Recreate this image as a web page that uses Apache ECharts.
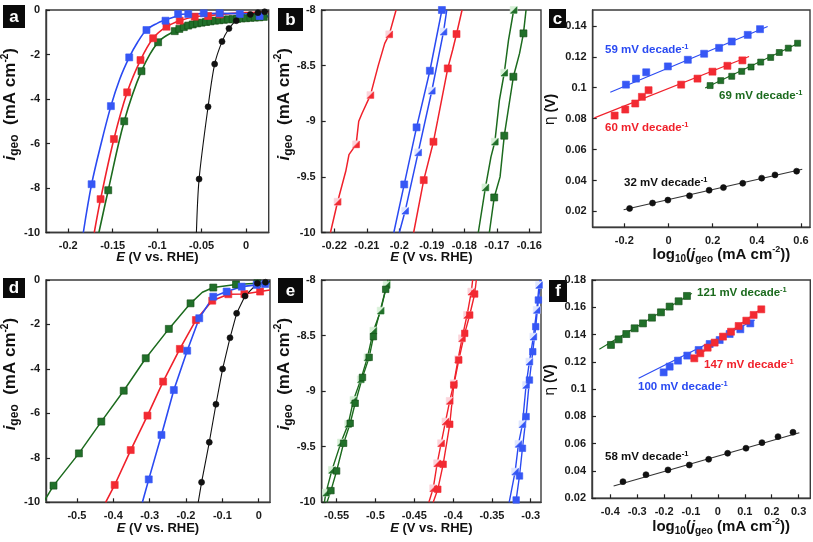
<!DOCTYPE html>
<html><head><meta charset="utf-8">
<script src="https://cdn.jsdelivr.net/npm/echarts@6/dist/echarts.min.js"></script>
<style>html,body{margin:0;padding:0;background:#fff}#c{width:813px;height:542px}</style>
</head><body><div id="c"></div>
<script>
// ---------------- DATA ----------------
// Panel a : j vs E (fresh)
const aXTicks = [-0.2, -0.15, -0.1, -0.05, 0];
const aYTicks = [-10, -8, -6, -4, -2, 0];
const aBlueLine = [[-0.183,-10],[-0.1737,-7.83],[-0.163,-6.0],[-0.152,-4.32],[-0.142,-3.1],[-0.1314,-2.13],[-0.122,-1.45],[-0.112,-0.9],[-0.1,-0.6],[-0.0906,-0.45],[-0.08,-0.3],[-0.0764,-0.22],[-0.065,-0.18],[-0.03,-0.15],[0.0,-0.17],[0.025,-0.27]];
const aBlueMarks = [[-0.1737,-7.83],[-0.152,-4.32],[-0.1314,-2.13],[-0.112,-0.9],[-0.0906,-0.48],[-0.0764,-0.18],[-0.065,-0.18],[-0.0476,-0.15],[-0.0296,-0.15],[-0.007,-0.18],[0.0153,-0.27]];
const aRedLine = [[-0.1707,-10],[-0.1636,-8.5],[-0.1486,-5.8],[-0.1337,-3.7],[-0.1187,-2.25],[-0.1045,-1.27],[-0.0895,-0.75],[-0.0746,-0.48],[-0.0577,-0.3],[-0.0427,-0.26],[-0.0296,-0.2],[0.0,-0.12],[0.025,-0.08]];
const aRedMarks = [[-0.1636,-8.5],[-0.1486,-5.8],[-0.1337,-3.7],[-0.1187,-2.25],[-0.1045,-1.27],[-0.0895,-0.75],[-0.0746,-0.48],[-0.0577,-0.3],[-0.0427,-0.27],[-0.0296,-0.2]];
const aGreenLine = [[-0.1655,-10],[-0.155,-8.1],[-0.137,-5.0],[-0.1176,-2.75],[-0.0989,-1.45],[-0.0802,-0.95],[-0.065,-0.7],[-0.05,-0.57],[-0.03,-0.46],[0.0,-0.37],[0.025,-0.3]];
const aGreenMarks = [[-0.155,-8.1],[-0.137,-5.0],[-0.1176,-2.75],[-0.0989,-1.45],[-0.0802,-0.95],[-0.075,-0.85],[-0.07,-0.77],[-0.065,-0.7],[-0.06,-0.65],[-0.055,-0.6],[-0.05,-0.57],[-0.045,-0.54],[-0.04,-0.51],[-0.035,-0.48],[-0.03,-0.46],[-0.025,-0.44],[-0.02,-0.42],[-0.015,-0.41],[-0.01,-0.4],[-0.005,-0.38],[0.0,-0.37],[0.005,-0.35],[0.01,-0.34],[0.015,-0.33],[0.02,-0.31]];
const aBlackLine = [[-0.0558,-10],[-0.0528,-7.6],[-0.0427,-4.35],[-0.0353,-2.43],[-0.027,-1.42],[-0.0192,-0.83],[-0.011,-0.48],[0.0048,-0.2],[0.0134,-0.12],[0.0209,-0.08],[0.025,-0.06]];
const aBlackMarks = [[-0.0528,-7.6],[-0.0427,-4.35],[-0.0353,-2.43],[-0.027,-1.42],[-0.0192,-0.83],[-0.011,-0.48],[0.0048,-0.2],[0.0134,-0.12],[0.0209,-0.08]];

// Panel b : zoom of a (before/after)
const bXTicks = [-0.22, -0.21, -0.2, -0.19, -0.18, -0.17, -0.16];
const bYTicks = [-10, -9.5, -9, -8.5, -8];
const bRedHalfLine = [[-0.2212,-10],[-0.219,-9.724],[-0.2165,-9.45],[-0.2155,-9.3],[-0.2133,-9.208],[-0.2125,-9.0],[-0.2115,-8.93],[-0.2089,-8.765],[-0.2065,-8.5],[-0.2045,-8.3],[-0.2031,-8.219],[-0.201,-8.0]];
const bRedHalfMarks = [[-0.219,-9.724],[-0.2133,-9.208],[-0.2089,-8.765],[-0.2031,-8.219]];
const bBlueLine = [[-0.2017,-10],[-0.1985,-9.568],[-0.1947,-9.055],[-0.1906,-8.546],[-0.1869,-8.0]];
const bBlueMarks = [[-0.1985,-9.568],[-0.1947,-9.055],[-0.1906,-8.546],[-0.1869,-8.0]];
const bBlueHalfLine = [[-0.2,-10],[-0.1982,-9.805],[-0.1942,-9.28],[-0.19,-8.726],[-0.1864,-8.195],[-0.1854,-8.0]];
const bBlueHalfMarks = [[-0.1982,-9.805],[-0.1942,-9.28],[-0.19,-8.726],[-0.1864,-8.195]];
const bRedLine = [[-0.1956,-10],[-0.1925,-9.529],[-0.1895,-9.184],[-0.1882,-8.99],[-0.1851,-8.525],[-0.1836,-8.36],[-0.1824,-8.216],[-0.1807,-8.0]];
const bRedMarks = [[-0.1925,-9.529],[-0.1895,-9.184],[-0.1851,-8.525],[-0.1824,-8.216]];
const bGreenHalfLine = [[-0.1757,-10],[-0.1735,-9.595],[-0.1718,-9.32],[-0.1706,-9.184],[-0.1692,-8.81],[-0.1677,-8.564],[-0.1664,-8.27],[-0.1648,-8.0]];
const bGreenHalfMarks = [[-0.1735,-9.595],[-0.1706,-9.184],[-0.1677,-8.564],[-0.1648,-8.0]];
const bGreenLine = [[-0.1723,-10],[-0.1708,-9.685],[-0.169,-9.5],[-0.1677,-9.13],[-0.1649,-8.6],[-0.163,-8.39],[-0.1618,-8.21],[-0.161,-8.0]];
const bGreenMarks = [[-0.1708,-9.685],[-0.1649,-8.6],[-0.1677,-9.13],[-0.1618,-8.21]];

// Panel c : Tafel (fresh)
const cXTicks = [-0.2, 0, 0.2, 0.4, 0.6];
const cYTicks = [0.02, 0.04, 0.06, 0.08, 0.1, 0.12, 0.14];
const cBlueMarks = [[-0.1925,0.102],[-0.147,0.1059],[-0.1006,0.11],[-0.0026,0.1138],[0.0878,0.1181],[0.1616,0.122],[0.2294,0.1258],[0.2866,0.1299],[0.359,0.1342],[0.4147,0.1379]];
const cBlueFit = [[-0.2633,0.0971],[0.4493,0.1396]];
const cRedMarks = [[-0.2437,0.082],[-0.1955,0.0859],[-0.1503,0.0898],[-0.1202,0.0941],[-0.09,0.0984],[0.0576,0.102],[0.1315,0.1059],[0.1993,0.1104],[0.267,0.1142],[0.3349,0.1177]];
const cRedFit = [[-0.3356,0.0805],[0.365,0.1202]];
const cGreenMarks = [[0.1887,0.1014],[0.2369,0.1046],[0.2866,0.1074],[0.3318,0.1106],[0.374,0.1134],[0.4177,0.1166],[0.4629,0.1196],[0.502,0.1228],[0.5427,0.1256],[0.5849,0.1288]];
const cGreenFit = [[0.166,0.0999],[0.5955,0.1293]];
const cBlackMarks = [[-0.1759,0.0219],[-0.072,0.0254],[-0.0026,0.0273],[0.0953,0.0301],[0.1842,0.0337],[0.249,0.0354],[0.3364,0.0382],[0.4222,0.0415],[0.4825,0.0436],[0.5804,0.046]];
const cBlackFit = [[-0.203,0.0211],[0.606,0.0473]];
const cSlopes = ['59', '60', '69', '32'];

// Panel d : j vs E (second set)
const dXTicks = [-0.5, -0.4, -0.3, -0.2, -0.1, 0];
const dYTicks = [-10, -8, -6, -4, -2, 0];
const dGreenMarks = [[-0.5643,-9.25],[-0.4945,-7.8],[-0.4329,-6.37],[-0.3713,-4.98],[-0.3107,-3.52],[-0.2472,-2.2],[-0.1875,-1.05],[-0.125,-0.34],[-0.0625,-0.2],[-0.0037,-0.15]];
const dGreenLine = [[-0.59,-9.95],[-0.5643,-9.25],[-0.4945,-7.8],[-0.4329,-6.37],[-0.3713,-4.98],[-0.3107,-3.52],[-0.2472,-2.2],[-0.1875,-1.05],[-0.155,-0.55],[-0.125,-0.34],[-0.0625,-0.2],[-0.0037,-0.15],[0.031,-0.12]];
const dRedMarks = [[-0.3961,-9.22],[-0.352,-7.65],[-0.306,-6.1],[-0.2629,-4.57],[-0.2169,-3.1],[-0.1728,-1.8],[-0.1278,-0.93],[-0.0836,-0.64],[-0.0395,-0.63],[0.0037,-0.52]];
const dRedLine = [[-0.421,-10],[-0.3961,-9.22],[-0.352,-7.65],[-0.306,-6.1],[-0.2629,-4.57],[-0.2169,-3.1],[-0.1728,-1.8],[-0.1278,-0.93],[-0.0836,-0.64],[-0.0395,-0.63],[0.0037,-0.52],[0.031,-0.45]];
const dBlueMarks = [[-0.3024,-8.97],[-0.2675,-6.97],[-0.2335,-4.95],[-0.1967,-3.18],[-0.1636,-1.72],[-0.125,-0.75],[-0.0882,-0.52],[-0.0469,-0.3],[-0.0055,-0.22],[0.0175,-0.18]];
const dBlueLine = [[-0.3199,-10],[-0.3024,-8.97],[-0.2675,-6.97],[-0.2335,-4.95],[-0.1967,-3.18],[-0.1636,-1.72],[-0.125,-0.75],[-0.0882,-0.52],[-0.0469,-0.3],[-0.0055,-0.22],[0.0175,-0.18],[0.031,-0.17]];
const dBlackMarks = [[-0.1572,-9.1],[-0.136,-7.3],[-0.1176,-5.59],[-0.0993,-4.0],[-0.079,-2.6],[-0.0607,-1.5],[-0.0377,-0.72],[-0.0037,-0.15],[0.0184,-0.1]];
const dBlackLine = [[-0.1664,-10],[-0.1572,-9.1],[-0.136,-7.3],[-0.1176,-5.59],[-0.0993,-4.0],[-0.079,-2.6],[-0.0607,-1.5],[-0.0377,-0.72],[-0.0037,-0.15],[0.0184,-0.1],[0.031,-0.06]];

// Panel e : zoom of d (before/after)
const eXTicks = [-0.55, -0.5, -0.45, -0.4, -0.35, -0.3];
const eYTicks = [-10, -9.5, -9, -8.5, -8];
const eGreenHalfMarks = [[-0.5637,-9.913],[-0.556,-9.709],[-0.5444,-9.463],[-0.535,-9.295],[-0.5282,-9.079],[-0.5188,-8.894],[-0.5103,-8.696],[-0.5026,-8.456],[-0.4932,-8.276],[-0.4855,-8.045]];
const eGreenHalfLine = [[-0.5658,-10],[-0.5637,-9.913],[-0.556,-9.709],[-0.5444,-9.463],[-0.535,-9.295],[-0.5282,-9.079],[-0.5188,-8.894],[-0.5103,-8.696],[-0.5026,-8.456],[-0.4932,-8.276],[-0.4855,-8.045],[-0.4838,-8]];
const eGreenMarks = [[-0.5573,-9.895],[-0.55,-9.718],[-0.541,-9.469],[-0.5325,-9.289],[-0.5261,-9.109],[-0.5167,-8.876],[-0.5081,-8.696],[-0.5026,-8.51],[-0.4868,-8.084]];
const eGreenLine = [[-0.5624,-10],[-0.5573,-9.895],[-0.55,-9.718],[-0.541,-9.469],[-0.5325,-9.289],[-0.5261,-9.109],[-0.5167,-8.876],[-0.5081,-8.696],[-0.5026,-8.51],[-0.4868,-8.084],[-0.4812,-8]];
const eRedHalfMarks = [[-0.4256,-9.874],[-0.4205,-9.649],[-0.4154,-9.469],[-0.4098,-9.274],[-0.4043,-9.088],[-0.3991,-8.93],[-0.3936,-8.714],[-0.3885,-8.525],[-0.382,-8.315],[-0.3765,-8.105]];
const eRedHalfLine = [[-0.4312,-10],[-0.4256,-9.874],[-0.4205,-9.649],[-0.4154,-9.469],[-0.4098,-9.274],[-0.4043,-9.088],[-0.3991,-8.93],[-0.3936,-8.714],[-0.3885,-8.525],[-0.382,-8.315],[-0.3765,-8.105],[-0.3748,-8]];
const eRedMarks = [[-0.4197,-9.883],[-0.4128,-9.658],[-0.4043,-9.298],[-0.3991,-8.945],[-0.3927,-8.72],[-0.385,-8.48],[-0.3786,-8.315],[-0.3722,-8.126]];
const eRedLine = [[-0.4256,-10],[-0.4197,-9.883],[-0.4128,-9.658],[-0.4043,-9.298],[-0.3991,-8.945],[-0.3927,-8.72],[-0.385,-8.48],[-0.3786,-8.315],[-0.3722,-8.126],[-0.3701,-8]];
const eBlueHalfMarks = [[-0.3201,-9.724],[-0.3158,-9.475],[-0.3107,-9.298],[-0.306,-8.945],[-0.3017,-8.735],[-0.2966,-8.51],[-0.2923,-8.27],[-0.2893,-8.045]];
const eBlueHalfLine = [[-0.3278,-10],[-0.3201,-9.724],[-0.3158,-9.475],[-0.3107,-9.298],[-0.306,-8.945],[-0.3017,-8.735],[-0.2966,-8.51],[-0.2923,-8.27],[-0.2893,-8.045],[-0.288,-8]];
const eBlueMarks = [[-0.3188,-9.979],[-0.3145,-9.763],[-0.3107,-9.514],[-0.306,-9.229],[-0.3017,-8.9],[-0.2974,-8.645],[-0.2936,-8.42],[-0.2902,-8.18]];
const eBlueLine = [[-0.3214,-10],[-0.3188,-9.979],[-0.3145,-9.763],[-0.3107,-9.514],[-0.306,-9.229],[-0.3017,-8.9],[-0.2974,-8.645],[-0.2936,-8.42],[-0.2902,-8.18],[-0.2868,-8]];

// Panel f : Tafel (second set)
const fXTicks = [-0.4, -0.3, -0.2, -0.1, 0, 0.1, 0.2, 0.3];
const fYTicks = [0.02, 0.04, 0.06, 0.08, 0.1, 0.12, 0.14, 0.16, 0.18];
const fGreenMarks = [[-0.3975,0.1324],[-0.369,0.1365],[-0.3405,0.1404],[-0.3095,0.1446],[-0.2786,0.1482],[-0.2451,0.1524],[-0.2117,0.1563],[-0.1794,0.1605],[-0.146,0.1644],[-0.115,0.1683]];
const fGreenFit = [[-0.4409,0.1292],[-0.0964,0.1702]];
const fBlueMarks = [[-0.2017,0.1123],[-0.1794,0.1165],[-0.1485,0.1209],[-0.1138,0.1246],[-0.0716,0.1287],[-0.0307,0.1331],[0.0065,0.136],[0.0436,0.1404],[0.0833,0.1439],[0.1204,0.1482]];
const fBlueFit = [[-0.2947,0.108],[0.1366,0.1507]];
const fRedMarks = [[-0.0877,0.1226],[-0.0654,0.1263],[-0.0382,0.1304],[-0.0121,0.1341],[0.0188,0.1385],[0.0486,0.1421],[0.0771,0.1463],[0.1056,0.1502],[0.1328,0.1544],[0.1613,0.1585]];
const fRedFit = [[-0.095,0.1215],[0.165,0.1595]];
const fBlackMarks = [[-0.3529,0.0322],[-0.2674,0.0373],[-0.1856,0.0408],[-0.1063,0.0444],[-0.0344,0.0486],[0.0362,0.053],[0.1043,0.0567],[0.1638,0.0608],[0.2233,0.0652],[0.279,0.0684]];
const fBlackFit = [[-0.3876,0.029],[0.3026,0.0681]];
const fSlopes = ['121', '147', '100', '58'];

const panelLetters = ['a', 'b', 'c', 'd', 'e', 'f'];

// ---------------- STYLE / BUILD ----------------
const FONT = '"Liberation Sans", Arial, Helvetica, sans-serif';
const BLUE = '#2a4af2', RED = '#f0212b', GREEN = '#1c6b1e', BLACK = '#111111';
const BLUE_M = '#3657f5', RED_M = '#f22a32', GREEN_M = '#21702a';
const PALE = {blue:'#dfe6ff', red:'#fbd3da', green:'#d6f0d6'};
const FRAME = '#3a3a3a';

const fmt = v => String(Math.round(v * 1000) / 1000);

const grids = [
  {left:46, top:10, width:222.7, height:222.5},
  {left:321.7, top:10, width:219.3, height:222.5},
  {left:592.7, top:10, width:217.3, height:217.3},
  {left:46, top:280, width:224, height:222.3},
  {left:321.7, top:280, width:219.3, height:222.3},
  {left:592, top:280, width:218.3, height:218.3}
].map(g => Object.assign(g, {show:true, borderColor:FRAME, borderWidth:1.4, backgroundColor:'transparent', containLabel:false, outerBoundsMode:'none'}));

function mkRich(size, subSize, supSize, lh, lead) {
  const base = {fontSize:size, fontWeight:'bold', fontFamily:FONT, color:'#111', lineHeight:lh};
  return {
    n: Object.assign({}, base),
    it: Object.assign({}, base, {fontStyle:'italic'}),
    it0: Object.assign({}, base, {fontStyle:'italic', padding:[0, 0, 0, lead]}),
    n0: Object.assign({}, base, {padding:[0, 0, 0, lead]}),
    eta: Object.assign({}, base, {fontWeight:'normal', fontFamily:'"DejaVu Sans", sans-serif', padding:[0, 0, 0, lead]}),
    sub: {fontSize:subSize, fontWeight:'bold', fontFamily:FONT, color:'#111', verticalAlign:'bottom'},
    sup: {fontSize:supSize, fontWeight:'bold', fontFamily:FONT, color:'#111', verticalAlign:'top'}
  };
}
const richE = mkRich(13, 9, 8, 17, 0);
const richJ = mkRich(17, 12, 10, 21, 34);
const richLog = mkRich(15, 10, 9, 19, 40);
const richEta = mkRich(14, 9, 8, 18, 18);

const EName = '{it|E}{n| (V vs. RHE)}';
const JName = '{it0|i}{sub|geo}{n|  (mA cm}{sup|-2}{n|)}';
const LogName = '{n0|log}{sub|10}{n|(}{it|j}{sub|geo}{n| (mA cm}{sup|-2}{n|))}';
const EtaName = '{eta|η}{n| (V)}';

function axis(gi, min, max, ticks, name, gap, rich, isY) {
  return {
    type:'value', gridIndex:gi, min:min, max:max,
    axisLine:{show:true, onZero:false, lineStyle:{color:FRAME, width:1.4}}, splitLine:{show:false},
    axisTick:{show:true, inside:true, length:4, customValues:ticks, lineStyle:{color:'#222', width:1.2}},
    axisLabel:{customValues:ticks, formatter:fmt, fontFamily:FONT, fontWeight:'bold', fontSize:11, color:'#1a1a1a', margin:isY ? 6 : 8},
    name:name, nameLocation:'middle', nameGap:gap, nameMoveOverlap:false,
    nameTextStyle:{rich:rich, fontFamily:FONT, fontWeight:'bold', color:'#111'}
  };
}
const xAxes = [
  axis(0, -0.225, 0.0255, aXTicks, EName, 16, richE),
  axis(1, -0.2239, -0.1564, bXTicks, EName, 16, richE),
  axis(2, -0.343, 0.641, cXTicks, LogName, 18, richLog),
  axis(3, -0.585, 0.031, dXTicks, EName, 18, richE),
  axis(4, -0.5692, -0.2868, eXTicks, EName, 18, richE),
  axis(5, -0.468, 0.3434, fXTicks, LogName, 19, richLog)
];
const yAxes = [
  axis(0, -10, 0, aYTicks, JName, 25, richJ, true),
  axis(1, -10, -8, bYTicks, JName, 27, richJ, true),
  axis(2, 0.0097, 0.1503, cYTicks, EtaName, 33, richEta, true),
  axis(3, -10, 0, dYTicks, JName, 25, richJ, true),
  axis(4, -10, -8, eYTicks, JName, 27, richJ, true),
  axis(5, 0.02, 0.18, fYTicks, EtaName, 33, richEta, true)
];

const series = [];
function line(i, data, color, w, smooth) {
  series.push({type:'line', xAxisIndex:i, yAxisIndex:i, data:data, symbol:'none', showSymbol:false,
    smooth:smooth || false, lineStyle:{color:color, width:w}, clip:true, silent:true, z:2, animation:false});
}
function marks(i, data, symbol, size, color, border) {
  series.push({type:'scatter', xAxisIndex:i, yAxisIndex:i, data:data, symbol:symbol, symbolSize:size,
    itemStyle:{color:color, borderColor:border || color, borderWidth:0.6, opacity:1}, clip:true, silent:true, z:3, animation:false});
}
function halfMarks(i, data, pale, color) {
  marks(i, data, 'rect', 7, pale, pale);
  marks(i, data, 'path://M10,0L10,10L0,10Z', 6.5, color, color);
}

// a
line(0, aGreenLine, GREEN, 1.6, 0.35); line(0, aRedLine, RED, 1.6, 0.35); line(0, aBlueLine, BLUE, 1.6, 0.35); line(0, aBlackLine, BLACK, 1.1, 0.3);
marks(0, aGreenMarks, 'rect', 7, GREEN_M, '#124a14'); marks(0, aRedMarks, 'rect', 7, RED_M); marks(0, aBlueMarks, 'rect', 7, BLUE_M); marks(0, aBlackMarks, 'circle', 6, BLACK);
// b
line(1, bRedHalfLine, RED, 1.5); line(1, bBlueLine, BLUE, 1.5); line(1, bBlueHalfLine, BLUE, 1.5); line(1, bRedLine, RED, 1.5);
line(1, bGreenHalfLine, GREEN, 1.5); line(1, bGreenLine, GREEN, 1.5);
halfMarks(1, bRedHalfMarks, PALE.red, RED_M); halfMarks(1, bBlueHalfMarks, PALE.blue, BLUE_M); halfMarks(1, bGreenHalfMarks, PALE.green, GREEN_M);
marks(1, bBlueMarks, 'rect', 7, BLUE_M); marks(1, bRedMarks, 'rect', 7, RED_M); marks(1, bGreenMarks, 'rect', 7, GREEN_M, '#124a14');
// c
line(2, cBlueFit, BLUE, 1.1); line(2, cRedFit, RED, 1.1); line(2, cGreenFit, GREEN, 1.1); line(2, cBlackFit, '#333', 1.1);
marks(2, cBlueMarks, 'rect', 7, BLUE_M); marks(2, cRedMarks, 'rect', 7, RED_M); marks(2, cGreenMarks, 'rect', 6, GREEN_M, '#124a14'); marks(2, cBlackMarks, 'circle', 6, BLACK);
// d
line(3, dGreenLine, GREEN, 1.5); line(3, dRedLine, RED, 1.6); line(3, dBlueLine, BLUE, 1.6); line(3, dBlackLine, BLACK, 1.1);
marks(3, dGreenMarks, 'rect', 7, GREEN_M, '#124a14'); marks(3, dRedMarks, 'rect', 7, RED_M); marks(3, dBlueMarks, 'rect', 7, BLUE_M); marks(3, dBlackMarks, 'circle', 6, BLACK);
// e
line(4, eGreenHalfLine, GREEN, 1.4); line(4, eGreenLine, GREEN, 1.4); line(4, eRedHalfLine, RED, 1.4); line(4, eRedLine, RED, 1.4); line(4, eBlueHalfLine, BLUE, 1.4); line(4, eBlueLine, BLUE, 1.4);
halfMarks(4, eGreenHalfMarks, PALE.green, GREEN_M); marks(4, eGreenMarks, 'rect', 6.5, GREEN_M, '#124a14');
halfMarks(4, eRedHalfMarks, PALE.red, RED_M); marks(4, eRedMarks, 'rect', 6.5, RED_M);
halfMarks(4, eBlueHalfMarks, PALE.blue, BLUE_M); marks(4, eBlueMarks, 'rect', 6.5, BLUE_M);
// f
line(5, fGreenFit, GREEN, 1.1); line(5, fBlueFit, BLUE, 1.1); line(5, fRedFit, RED, 1.1); line(5, fBlackFit, '#333', 1.1);
marks(5, fGreenMarks, 'rect', 7, GREEN_M, '#124a14'); marks(5, fBlueMarks, 'rect', 7, BLUE_M); marks(5, fRedMarks, 'rect', 7, RED_M); marks(5, fBlackMarks, 'circle', 6, BLACK);

// annotations & panel letters
function slopeText(x, y, slope, color) {
  return {type:'text', x:x, y:y, z:10, silent:true, style:{
    text:'{t|' + slope + ' mV decade}{s|-1}', verticalAlign:'middle',
    rich:{t:{fontSize:11.5, fontWeight:'bold', fontFamily:FONT, fill:color, lineHeight:14},
          s:{fontSize:7.5, fontWeight:'bold', fontFamily:FONT, fill:color, verticalAlign:'top'}}}};
}
function letter(x, y, w, h, ch) {
  return {type:'group', z:10, silent:true, children:[
    {type:'rect', shape:{x:x, y:y, width:w, height:h}, style:{fill:'#0a0a0a'}},
    {type:'text', x:x + w / 2, y:y + h / 2 + 0.5, style:{text:ch, fill:'#fff', font:'bold 17px ' + FONT, align:'center', verticalAlign:'middle'}}
  ]};
}
const graphic = [
  slopeText(605, 50, cSlopes[0], BLUE), slopeText(605, 128, cSlopes[1], RED), slopeText(719, 96, cSlopes[2], GREEN), slopeText(624, 183, cSlopes[3], BLACK),
  slopeText(697, 293, fSlopes[0], GREEN), slopeText(704, 365, fSlopes[1], RED), slopeText(638, 387, fSlopes[2], BLUE), slopeText(605, 457, fSlopes[3], BLACK),
  letter(3, 5, 22, 23, panelLetters[0]), letter(278, 8, 25, 23, panelLetters[1]), letter(549, 9, 17, 19, panelLetters[2]),
  letter(3, 278, 22, 20, panelLetters[3]), letter(278, 278, 25, 25, panelLetters[4]), letter(549, 280, 18, 22, panelLetters[5])
];

const chart = echarts.init(document.getElementById('c'), null, {renderer:'canvas'});
chart.setOption({animation:false, backgroundColor:'#fff', grid:grids, xAxis:xAxes, yAxis:yAxes, series:series, graphic:graphic});
</script></body></html>
